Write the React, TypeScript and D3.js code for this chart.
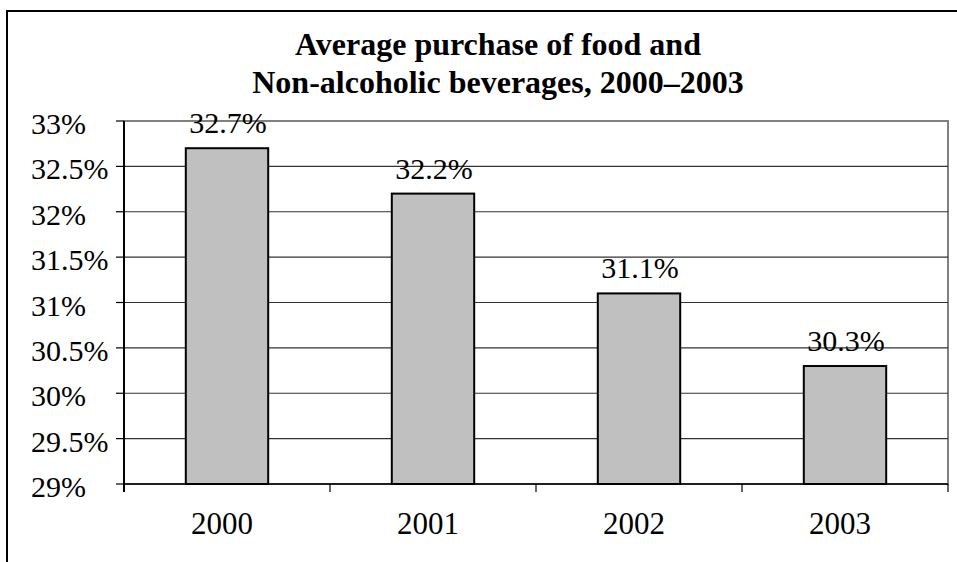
import React from "react";
import * as d3 from "d3";

const categories = ["2000", "2001", "2002", "2003"];
const values = [32.7, 32.2, 31.1, 30.3];
const yTicks = [29, 29.5, 30, 30.5, 31, 31.5, 32, 32.5, 33];
const titleLines = ["Average purchase of food and", "Non-alcoholic beverages, 2000\u20132003"];

export default function App() {
  const W = 957, H = 562;
  const left = 124, right = 948, top = 121, bottom = 484;
  const x = d3.scaleBand<string>().domain(categories).range([left, right]).paddingInner(0).paddingOuter(0);
  const y = d3.scaleLinear().domain([29, 33]).range([bottom, top]);
  const bw = x.bandwidth() * 0.4;
  const ts: React.CSSProperties = { fontFamily: "Liberation Serif" };
  const fmt = (v: number) => `${v}%`;
  return (
    <svg width={W} height={H} style={{ position: "absolute", left: 0, top: 0, background: "#fff" }}>
      <rect x={7} y={11} width={W + 20} height={H + 20} fill="#fff" stroke="#000" strokeWidth={2} />
      {titleLines.map((t, i) => (
        <text key={i} x={498} y={55 + i * 38} textAnchor="middle" fontWeight="bold" fontSize={32} fill="#000" style={ts}>{t}</text>
      ))}
      <rect x={left} y={top} width={right - left} height={bottom - top} fill="none" stroke="#808080" strokeWidth={2} />
      {yTicks.map((t) => (
        <g key={t}>
          {t > 29 && t < 33 && <line x1={left} x2={right} y1={y(t)} y2={y(t)} stroke="#333" strokeWidth={1.2} />}
          <line x1={116} x2={left} y1={y(t)} y2={y(t)} stroke="#000" strokeWidth={1.2} />
          <text x={31} y={y(t) + 13} fontSize={30} fill="#000" style={ts}>{fmt(t)}</text>
        </g>
      ))}
      {categories.map((c, i) => {
        const cx = (x(c) as number) + x.bandwidth() / 2;
        return (
          <g key={c}>
            <rect x={cx - bw / 2} y={y(values[i])} width={bw} height={bottom - y(values[i])} fill="#c0c0c0" stroke="#000" strokeWidth={2} />
            <text x={cx + 1} y={y(values[i]) - 15} textAnchor="middle" fontSize={30} fill="#000" style={ts}>{fmt(values[i])}</text>
            <text x={cx - 5} y={534} textAnchor="middle" fontSize={31} fill="#000" style={ts}>{c}</text>
          </g>
        );
      })}
      {[...categories.map((c) => x(c) as number), right].map((p, i) => (
        <line key={i} x1={p} x2={p} y1={bottom} y2={bottom + 8} stroke="#000" strokeWidth={1.2} />
      ))}
      <line x1={left} x2={right} y1={bottom} y2={bottom} stroke="#000" strokeWidth={1.5} />
      <line x1={left} x2={left} y1={top} y2={bottom + 8} stroke="#000" strokeWidth={2} />
    </svg>
  );
}
